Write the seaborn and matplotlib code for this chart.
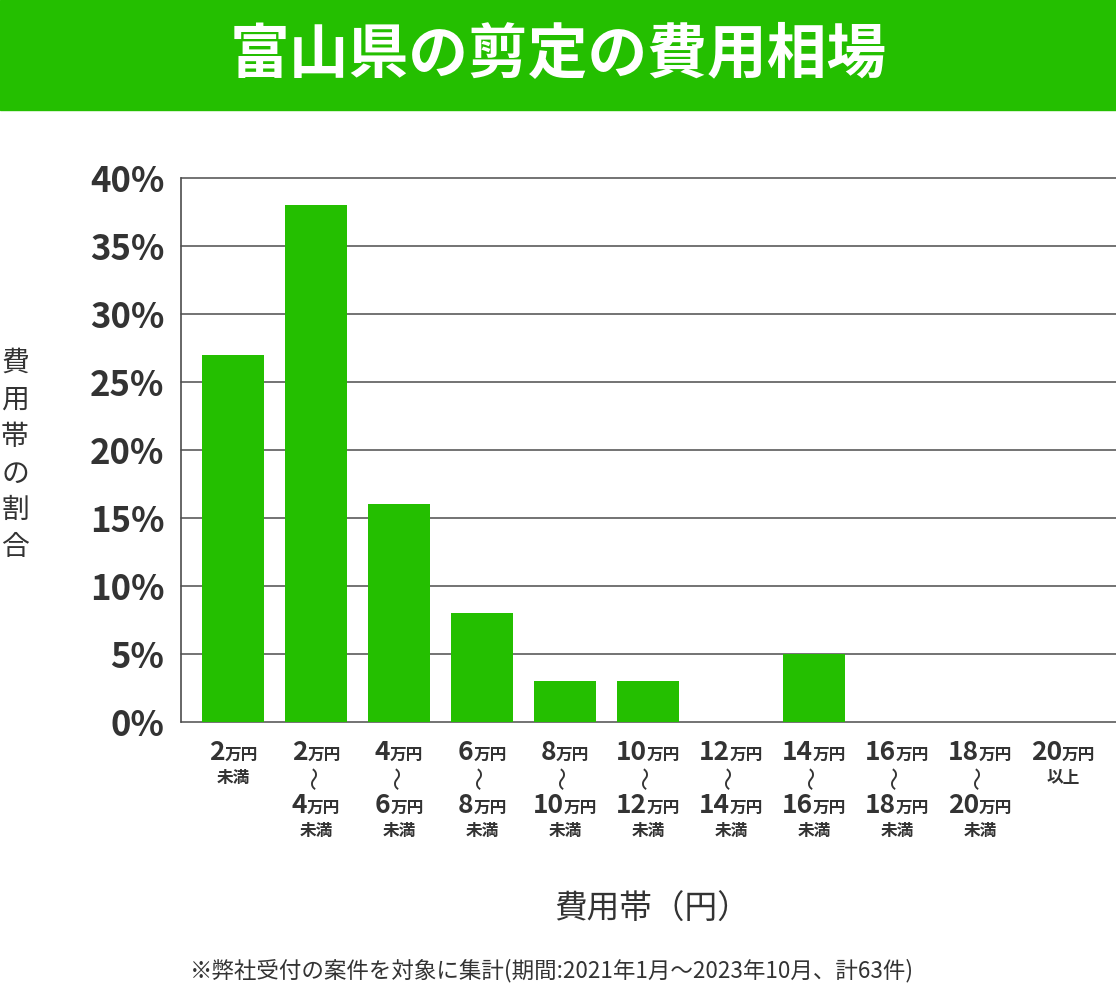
import numpy as np
import pandas as pd
import seaborn as sns
import matplotlib
matplotlib.use("Agg")
import matplotlib.pyplot as plt
from matplotlib.patches import Rectangle

# ---- data ----
categories = ["2万円未満", "2万円～4万円未満", "4万円～6万円未満", "6万円～8万円未満",
              "8万円～10万円未満", "10万円～12万円未満", "12万円～14万円未満",
              "14万円～16万円未満", "16万円～18万円未満", "18万円～20万円未満", "20万円以上"]
shares = [27, 38, 16, 8, 3, 3, 0, 5, 0, 0, 0]
label_lo = ["2", "2", "4", "6", "8", "10", "12", "14", "16", "18", "20"]
label_hi = [None, "4", "6", "8", "10", "12", "14", "16", "18", "20", None]
label_tail = ["未満", "未満", "未満", "未満", "未満", "未満", "未満", "未満", "未満", "未満", "以上"]
yticks = [0, 5, 10, 15, 20, 25, 30, 35, 40]
ytick_labels = ["0%", "5%", "10%", "15%", "20%", "25%", "30%", "35%", "40%"]
title = "富山県の剪定の費用相場"
xlabel = "費用帯（円）"
ylabel = "費用帯の割合"
footnote = "※弊社受付の案件を対象に集計(期間:2021年1月～2023年10月、計63件)"

GREEN = "#24bf00"
TEXT = "#333333"
GRID = "#4d4d4d"

sns.set_theme(style="white")
plt.rcParams['font.family'] = ['Noto Sans CJK JP', 'DejaVu Sans']

DPI = 100
fig = plt.figure(figsize=(11.16, 9.89), dpi=DPI)
W, H = 1116, 989

# banner
fig.add_artist(Rectangle((0, 1 - 110 / H), 1, 110 / H, transform=fig.transFigure,
                         color=GREEN, zorder=0))
fig.text(0.5, 1 - 56 / H, title, ha="center", va="center", color="white",
         fontsize=43, fontweight="bold")

ax = fig.add_axes([181 / W, 1 - 722 / H, 1 - 181 / W, (722 - 178) / H])
df = pd.DataFrame({"cat": categories, "share": shares})
sns.barplot(data=df, x="cat", y="share", color=GREEN, saturation=1, width=0.747,
            ax=ax, zorder=3, linewidth=0, edgecolor="none")
ax.set_xlim(-0.627, 10.64)
ax.set_ylim(0, 40)
ax.set_yticks(yticks)
ax.set_yticklabels(ytick_labels, fontsize=25, fontweight="bold", color=TEXT)
ax.tick_params(axis="y", length=0, pad=12)
ax.tick_params(axis="x", length=0)
ax.set_xticklabels([""] * len(categories))
ax.set_xlabel("")
ax.set_ylabel("")
for s in ["top", "right", "bottom"]:
    ax.spines[s].set_visible(False)
ax.spines["left"].set_color(GRID)
ax.spines["left"].set_linewidth(1.2)
ax.spines["left"].set_zorder(4)
ax.yaxis.grid(True, color=GRID, linewidth=1.1, zorder=0)
ax.set_axisbelow(True)
for gl in ax.yaxis.get_gridlines():
    gl.set_clip_on(False)

# ---- custom multi-line x labels ----
fig.canvas.draw()
renderer = fig.canvas.get_renderer()
NUM_FS = 19
UNIT_FS = 12
SMALL_FS = 12


def group(xc, ybase_px, num):
    t1 = ax.annotate(num, xy=(xc, 0), xycoords=("data", "axes fraction"),
                     xytext=(0, -ybase_px), textcoords="offset pixels",
                     ha="left", va="baseline", fontsize=NUM_FS, fontweight="bold",
                     color=TEXT, annotation_clip=False)
    t2 = ax.annotate("万円", xy=(xc, 0), xycoords=("data", "axes fraction"),
                     xytext=(0, -ybase_px), textcoords="offset pixels",
                     ha="left", va="baseline", fontsize=UNIT_FS, fontweight="bold",
                     color=TEXT, annotation_clip=False)
    w1 = t1.get_window_extent(renderer).width
    w2 = t2.get_window_extent(renderer).width
    tot = w1 + w2
    t1.set_position((-tot / 2, -ybase_px))
    t2.set_position((-tot / 2 + w1, -ybase_px))


def small(xc, ybase_px, s):
    ax.annotate(s, xy=(xc, 0), xycoords=("data", "axes fraction"),
                xytext=(0, -ybase_px), textcoords="offset pixels",
                ha="center", va="baseline", fontsize=SMALL_FS, fontweight="bold",
                color=TEXT, annotation_clip=False)


for i in range(len(categories)):
    group(i, 38, label_lo[i])
    if label_hi[i] is None:
        small(i, 61, label_tail[i])
    else:
        ax.annotate("〜", xy=(i, 0), xycoords=("data", "axes fraction"),
                    xytext=(0, -55), textcoords="offset pixels", rotation=90,
                    ha="center", va="center", fontsize=17, color=TEXT,
                    fontweight="normal", annotation_clip=False)
        group(i, 91, label_hi[i])
        small(i, 114, label_tail[i])

# axis labels
fig.text(15 / W, 1 - 455 / H, "\n".join(ylabel), ha="center", va="center",
         fontsize=20, color=TEXT, linespacing=1.3)
fig.text(652 / W, 1 - 910 / H, xlabel, ha="center", va="center",
         fontsize=23.5, color=TEXT)
fig.text(552 / W, 1 - 971 / H, footnote, ha="center", va="center",
         fontsize=16.2, color=TEXT)

fig.savefig("out.png", dpi=DPI)
